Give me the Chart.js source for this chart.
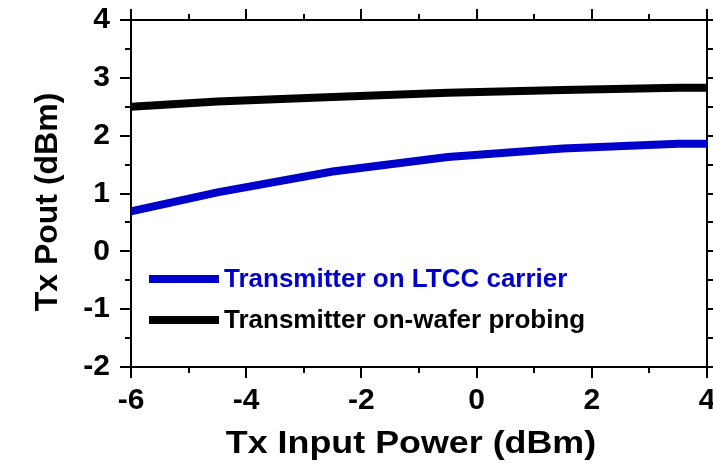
<!DOCTYPE html>
<html>
<head>
<meta charset="utf-8">
<script src="https://cdn.jsdelivr.net/npm/chart.js@4/dist/chart.umd.min.js"></script>
<style>
  html, body { margin: 0; padding: 0; background: #fff; }
  #wrap { width: 713px; height: 465px; }
</style>
</head>
<body>
<div id="wrap"><canvas id="pout"></canvas></div>
<script>
// input power sweep (dBm)
const inputPower = [-6, -4.5, -2.5, -0.5, 1.5, 3.5, 4];
// output power of the two transmitter setups (dBm)
const ltccPout = [0.69, 1.02, 1.38, 1.63, 1.78, 1.86, 1.86];
const waferPout = [2.50, 2.59, 2.67, 2.74, 2.79, 2.83, 2.83];
const seriesNames = ['Transmitter on LTCC carrier', 'Transmitter on-wafer probing'];
const seriesColors = ['#0000cc', '#000000'];
const xTitle = 'Tx Input Power (dBm)';
const yTitle = 'Tx Pout (dBm)';

const FONT = '"Liberation Sans", Arial, Helvetica, sans-serif';

// box round the plot with ticks on all four sides, minor ticks halfway
const framePlugin = {
  id: 'frame',
  beforeDatasetsDraw(chart) {
    const ctx = chart.ctx;
    const a = chart.chartArea;
    const xs = chart.scales.x, ys = chart.scales.y;
    const major = 11, minor = 6;
    ctx.save();
    ctx.strokeStyle = '#000';
    ctx.lineWidth = 2;
    ctx.strokeRect(a.left, a.top, a.right - a.left, a.bottom - a.top);
    ctx.beginPath();
    for (let v = xs.min; v <= xs.max + 1e-9; v += 1) {
      const px = Math.round(xs.getPixelForValue(v));
      const len = (Math.round(v) % 2 === 0) ? major : minor;
      ctx.moveTo(px, a.bottom); ctx.lineTo(px, a.bottom + len);
      ctx.moveTo(px, a.top); ctx.lineTo(px, a.top - len);
    }
    for (let v = ys.min; v <= ys.max + 1e-9; v += 0.5) {
      const py = Math.round(ys.getPixelForValue(v));
      const len = (Number.isInteger(v)) ? major : minor;
      ctx.moveTo(a.left, py); ctx.lineTo(a.left - len, py);
      ctx.moveTo(a.right, py); ctx.lineTo(a.right + len, py);
    }
    ctx.stroke();
    ctx.restore();
  },
  afterDraw(chart) {
    const ctx = chart.ctx;
    const a = chart.chartArea;

    // legend inside the plot, lower left
    const rows = [a.top + 259, a.top + 300];
    ctx.save();
    ctx.font = 'bold 26px ' + FONT;
    ctx.textBaseline = 'middle';
    chart.data.datasets.forEach((ds, i) => {
      const y = rows[i];
      ctx.strokeStyle = ds.borderColor;
      ctx.lineWidth = 8;
      ctx.beginPath();
      ctx.moveTo(a.left + 18, y);
      ctx.lineTo(a.left + 88, y);
      ctx.stroke();
      ctx.fillStyle = ds.borderColor;
      ctx.fillText(ds.label, a.left + 93, y + 1);
    });
    ctx.restore();

    // axis titles
    ctx.save();
    ctx.fillStyle = '#000';
    ctx.font = 'bold 32px ' + FONT;
    ctx.textAlign = 'center';
    ctx.textBaseline = 'alphabetic';
    ctx.save();
    ctx.translate(a.left + 280, a.bottom + 86);
    ctx.scale(1.12, 1);
    ctx.fillText(xTitle, 0, 0);
    ctx.restore();
    ctx.translate(57, a.top + 182);
    ctx.rotate(-Math.PI / 2);
    ctx.fillText(yTitle, 0, 0);
    ctx.restore();
  }
};

new Chart(document.getElementById('pout'), {
  type: 'line',
  data: {
    labels: inputPower,
    datasets: [
      {
        label: seriesNames[0],
        data: inputPower.map((x, i) => ({x: x, y: ltccPout[i]})),
        borderColor: seriesColors[0],
        borderWidth: 8,
        pointRadius: 0,
        tension: 0
      },
      {
        label: seriesNames[1],
        data: inputPower.map((x, i) => ({x: x, y: waferPout[i]})),
        borderColor: seriesColors[1],
        borderWidth: 8,
        pointRadius: 0,
        tension: 0
      }
    ]
  },
  options: {
    responsive: true,
    maintainAspectRatio: false,
    animation: false,
    layout: { padding: { left: 0, top: 20, right: 6, bottom: 0 } },
    plugins: {
      legend: { display: false },
      tooltip: { enabled: false }
    },
    scales: {
      x: {
        type: 'linear',
        min: -6,
        max: 4,
        grid: { display: false, drawTicks: false },
        border: { display: false },
        ticks: {
          stepSize: 2,
          padding: 16,
          color: '#000',
          font: { family: FONT, size: 30, weight: 'bold' }
        },
        afterFit(s) {
          s.height = 98;
          s.paddingLeft = 0;
          s.paddingRight = 0;
        }
      },
      y: {
        min: -2,
        max: 4,
        grid: { display: false, drawTicks: false },
        border: { display: false },
        ticks: {
          stepSize: 1,
          padding: 21,
          color: '#000',
          font: { family: FONT, size: 30, weight: 'bold' }
        },
        afterFit(s) {
          s.width = 131;
          s.paddingTop = 0;
          s.paddingBottom = 0;
        }
      }
    }
  },
  plugins: [framePlugin]
});
</script>
</body>
</html>
